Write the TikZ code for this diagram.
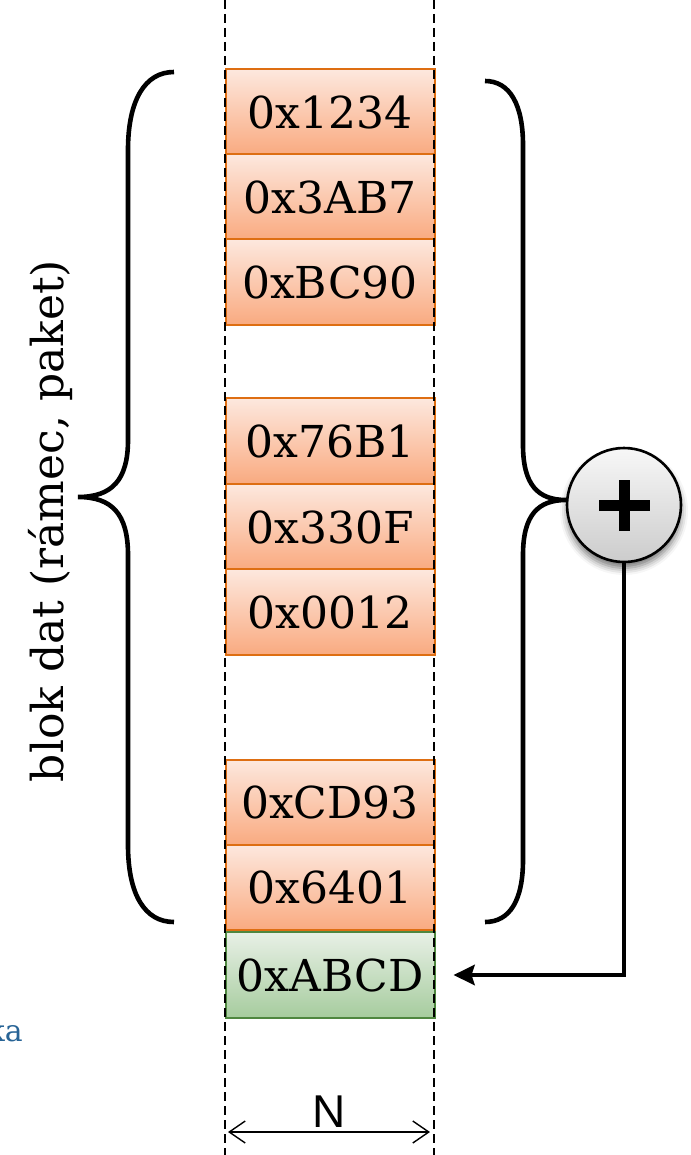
\documentclass[tikz,border=0pt]{standalone}
\usepackage{fontspec}
\setmainfont{DejaVu Serif}
\newfontfamily\labelsans{Liberation Sans}
\usetikzlibrary{arrows.meta,shadows.blur,backgrounds,fit}

\definecolor{cellEdge}{RGB}{222,110,18}
\definecolor{cellTop}{RGB}{253,232,222}
\definecolor{cellMid}{RGB}{252,214,194}
\definecolor{cellBot}{RGB}{249,170,128}
\definecolor{sumEdge}{RGB}{79,135,64}
\definecolor{sumTop}{RGB}{232,240,230}
\definecolor{sumMid}{RGB}{210,228,206}
\definecolor{sumBot}{RGB}{166,204,158}
\definecolor{noteBlue}{RGB}{40,100,150}

\tikzset{
  cell/.style={draw=cellEdge, line width=2pt, minimum width=209pt,
    minimum height=85.5pt, inner sep=0pt, top color=cellTop,
    middle color=cellMid, bottom color=cellBot,
    font=\fontsize{44}{50}\selectfont},
  sumcell/.style={cell, draw=sumEdge, top color=sumTop,
    middle color=sumMid, bottom color=sumBot},
  groupshadow/.style={inner sep=0pt, fill=white,
    blur shadow={shadow xshift=0pt, shadow yshift=-5pt,
      shadow blur radius=6pt, shadow opacity=55}},
  guide/.style={line width=1.4pt, dash pattern=on 9pt off 5pt},
  brace/.style={line width=4.6pt, line cap=butt},
  link/.style={line width=4.6pt, -{Stealth[length=21pt,width=20pt,inset=3pt]}},
  width arrow/.style={line width=1.4pt,
    {Straight Barb[length=16pt,width=22pt]}-{Straight Barb[length=16pt,width=22pt]}},
}

\begin{document}
\begin{tikzpicture}[x=1pt,y=-1pt]
\useasboundingbox (0,0) rectangle (690,1155);

% data words
\node[cell] (w1) at (330,112) {0x1234};
\node[cell] (w2) at (330,197) {0x3AB7};
\node[cell] (w3) at (330,282) {0xBC90};
\node[cell] (w4) at (330,441) {0x76B1};
\node[cell] (w5) at (330,527) {0x330F};
\node[cell] (w6) at (330,612) {0x0012};
\node[cell] (w7) at (330,802.5) {0xCD93};
\node[cell] (w8) at (330,887.5) {0x6401};
\node[sumcell] (sum) at (330,975) {0xABCD};

% soft shadows under each group of words
\begin{scope}[on background layer]
  \node[groupshadow, fit=(w1)(w3)] {};
  \node[groupshadow, fit=(w4)(w6)] {};
  \node[groupshadow, fit=(w7)(sum)] {};
\end{scope}

% word width guides
\coordinate (gl0) at (225,0);
\coordinate (gl1) at (225,1155);
\coordinate (gr0) at (434,0);
\coordinate (gr1) at (434,1155);
\draw[guide] (gl0) -- (gl1);
\draw[guide] (gr0) -- (gr1);

% left brace: the whole block
\draw[brace] (174,72) .. controls (145,72) and (128,100) .. (128,150)
  -- (128,440) .. controls (128,480) and (112,497) .. (78,497)
  .. controls (112,497) and (128,514) .. (128,555)
  -- (128,845) .. controls (128,895) and (145,922) .. (174,922);

% right brace: the words that are summed
\draw[brace] (485,81) .. controls (510,81) and (523,105) .. (523,145)
  -- (523,445) .. controls (523,485) and (538,500) .. (566,500)
  .. controls (538,500) and (523,515) .. (523,555)
  -- (523,860) .. controls (523,900) and (510,922) .. (485,922);

% adder
\node[circle, draw, line width=2.6pt, minimum size=114pt,
  top color=gray!6, bottom color=gray!40,
  blur shadow={shadow xshift=0pt, shadow yshift=-6pt, shadow blur radius=7pt, shadow opacity=55}]
  (plus) at (624,505) {};
\fill ([shift={(-25.5,-5.5)}]plus.center) rectangle ([shift={(25.5,5.5)}]plus.center);
\fill ([shift={(-5.5,-25.5)}]plus.center) rectangle ([shift={(5.5,25.5)}]plus.center);

% result fed back into the last word
\draw[link] (plus.south) |- ([xshift=18pt]sum.east);

% block label
\node[rotate=90, font=\fontsize{44}{50}\selectfont] (blk) at (50,521) {blok dat (rámec, paket)};

% partly hidden note
\node[anchor=base east, inner sep=0pt, text=noteBlue, font=\fontsize{30}{34}\selectfont]
  (note) at (23,1041) {ka};

% word width N
\coordinate (nl) at (228,1132);
\coordinate (nr) at (430,1132);
\draw[width arrow] (nl) -- (nr)
  node[midway, above=4pt, font=\labelsans\fontsize{46}{50}\selectfont, inner sep=0pt] {N};
\end{tikzpicture}
\end{document}
